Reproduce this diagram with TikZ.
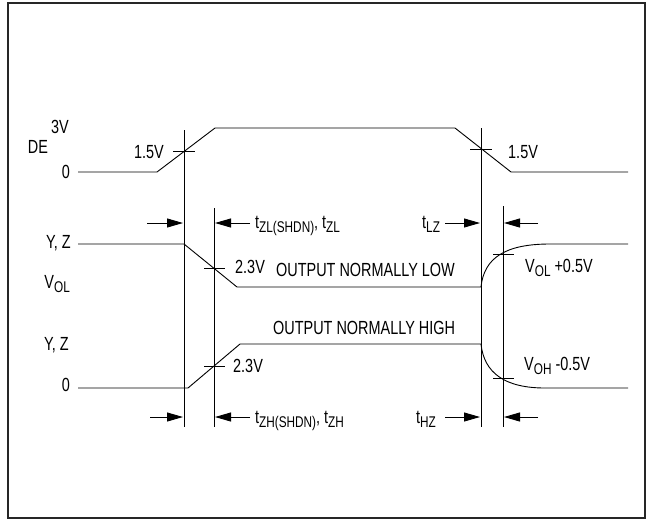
\documentclass[tikz,border=0pt]{standalone}
\usepackage{fontspec}
\setmainfont{Liberation Sans}[FakeStretch=0.76]
\usetikzlibrary{arrows.meta}
\newcommand\subtxt[1]{\raisebox{-4pt}{\fontsize{15.5}{16}\selectfont #1}}

\begin{document}
\begin{tikzpicture}[x=1pt, y=-1pt, font=\fontsize{19}{22}\selectfont]
  \tikzstyle{frame} = [draw=black!85, line width=2.4pt]
  \tikzstyle{wave} = [line width=0.9pt]
  \tikzstyle{tick} = [line width=0.9pt]
  \tikzstyle{meas} = [line width=0.9pt, -{Triangle[length=16pt, width=9pt]}]
  \tikzstyle{lbl} = [inner sep=0pt]
\useasboundingbox (0,0) rectangle (650,520);
\draw[frame] (8,3) rectangle (645,518);
% reference lines
\coordinate (ra) at (184,130); \coordinate (rab) at (184,427);
\coordinate (rb) at (214,208); \coordinate (rbb) at (214,427);
\coordinate (rc) at (481,128); \coordinate (rcb) at (481,427);
\coordinate (rd) at (503,206); \coordinate (rdb) at (503,427);
\draw[tick] (ra) -- (rab);
\draw[tick] (rb) -- (rbb);
\draw[tick] (rc) -- (rcb);
\draw[tick] (rd) -- (rdb);
% DE
\draw[wave] (78,172) -- (157,172) -- (215,128) -- (455,128) -- (511,172) -- (628,172);
\draw[tick] (173,151) -- (195,151);
\draw[tick] (470,149) -- (492,149);
\node[lbl, anchor=east] (de3v) at (69,127) {3V};
\node[lbl] (de) at (38,147) {DE};
\node[lbl, anchor=east] (de0) at (70,172) {0};
\node[lbl, anchor=east] (delft) at (164,152) {1.5V};
\node[lbl, anchor=west] (dergt) at (508,152) {1.5V};
% output normally low
\draw[wave] (78,244) -- (184,244) -- (237,287) -- (481,287)
  .. controls (484,258) and (505,244) .. (550,244) -- (628,244);
\draw[tick] (204,268) -- (225,268);
\draw[tick] (493,254) -- (514,254);
\node[lbl, anchor=east] (yzlow) at (71,243) {Y, Z};
\node[lbl, anchor=east] (vol) at (70,284) {V\subtxt{OL}};
\node[lbl, anchor=west] (lowv) at (235,267) {2.3V};
\node[lbl, anchor=west] (lowtxt) at (276,270) {OUTPUT NORMALLY LOW};
\node[lbl, anchor=west] (volv) at (525,268) {V\subtxt{OL} +0.5V};
% output normally high
\draw[wave] (78,388) -- (188,388) -- (240,344) -- (481,344)
  .. controls (484,373) and (505,388) .. (545,388) -- (628,388);
\draw[tick] (204,366) -- (225,366);
\draw[tick] (493,378) -- (514,378);
\node[lbl, anchor=east] (yzhigh) at (69,345) {Y, Z};
\node[lbl, anchor=east] (hi0) at (70,385) {0};
\node[lbl, anchor=west] (highv) at (233,366) {2.3V};
\node[lbl, anchor=west] (hightxt) at (273,328) {OUTPUT NORMALLY HIGH};
\node[lbl, anchor=west] (vohv) at (524,366) {V\subtxt{OH} -0.5V};
% timing arrows
\coordinate (a1) at (147,223); \coordinate (a1t) at (183,223);
\coordinate (a2) at (250,223); \coordinate (a2t) at (215,223);
\coordinate (a3) at (445,223); \coordinate (a3t) at (480,223);
\coordinate (a4) at (538,223); \coordinate (a4t) at (504,223);
\coordinate (b1) at (150,417); \coordinate (b1t) at (183,417);
\coordinate (b2) at (250,417); \coordinate (b2t) at (215,417);
\coordinate (b3) at (445,417); \coordinate (b3t) at (480,417);
\coordinate (b4) at (538,417); \coordinate (b4t) at (504,417);
\draw[meas] (a1) -- (a1t);
\draw[meas] (a2) -- (a2t);
\draw[meas] (a3) -- (a3t);
\draw[meas] (a4) -- (a4t);
\draw[meas] (b1) -- (b1t);
\draw[meas] (b2) -- (b2t);
\draw[meas] (b3) -- (b3t);
\draw[meas] (b4) -- (b4t);
\node[lbl, anchor=base west] (tzl) at (255,228) {t\subtxt{ZL(SHDN)}, t\subtxt{ZL}};
\node[lbl, anchor=base west] (tlz) at (422,228) {t\subtxt{LZ}};
\node[lbl, anchor=base west] (tzh) at (255,423) {t\subtxt{ZH(SHDN)}, t\subtxt{ZH}};
\node[lbl, anchor=base west] (thz) at (416,423) {t\subtxt{HZ}};
\end{tikzpicture}
\end{document}
